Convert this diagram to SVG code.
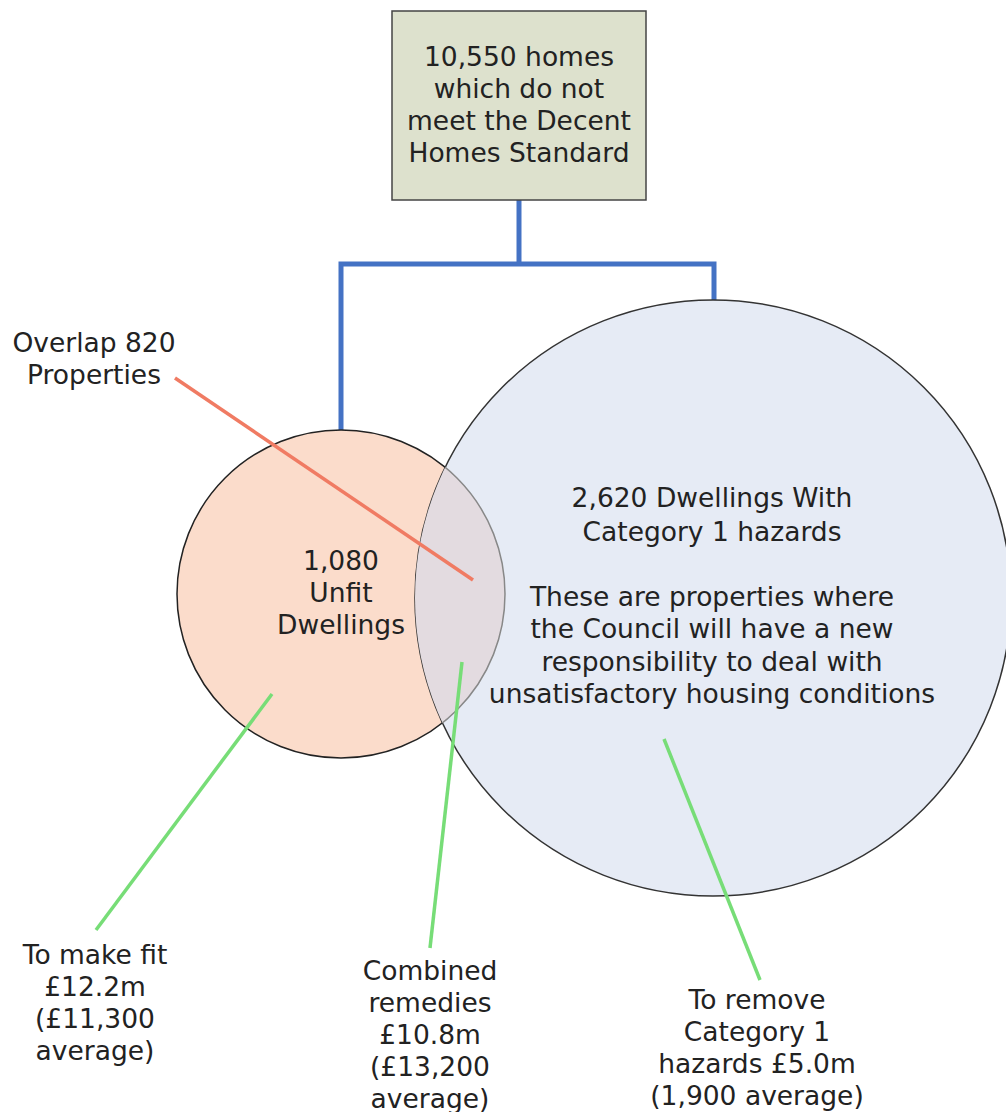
<svg xmlns="http://www.w3.org/2000/svg" width="1006" height="1112" viewBox="0 0 1006 1112">
<style>
text{font-family:"DejaVu Sans","Noto Sans",sans-serif;font-size:26.5px;fill:#222;text-anchor:middle}
.blue{fill:none;stroke:#4472c4;stroke-width:5}
.green{stroke:#77dd77;stroke-width:3.5;fill:none}
.orange{stroke:#f07b63;stroke-width:3.5;fill:none}
</style>
<defs>
<clipPath id="bigClip"><circle cx="713" cy="598" r="298"/></clipPath>
</defs>
<rect width="1006" height="1112" fill="#fff"/>
<g id="connectors">
<polyline class="blue" points="519,200 519,264"/>
<polyline class="blue" points="341,430 341,264 714,264 714,300"/>
</g>
<g id="top-box">
<rect x="392" y="11" width="254" height="189" fill="#dde1cd" stroke="#444" stroke-width="1.5"/>
<text x="519" y="66">10,550 homes</text>
<text x="519" y="98">which do not</text>
<text x="519" y="130">meet the Decent</text>
<text x="519" y="162">Homes Standard</text>
</g>
<g id="unfit-circle">
<circle cx="341" cy="594" r="164" fill="#fbdccb" stroke="#222" stroke-width="1.5"/>
</g>
<g id="hazard-circle">
<circle cx="713" cy="598" r="298" fill="#e6ebf5" stroke="#333" stroke-width="1.5"/>
</g>
<g id="overlap">
<circle cx="341" cy="594" r="164" fill="#e3dbe0" stroke="#888" stroke-width="1.5" clip-path="url(#bigClip)"/>
</g>
<g id="unfit-label">
<text x="341" y="570">1,080</text>
<text x="341" y="602">Unfit</text>
<text x="341" y="634">Dwellings</text>
</g>
<g id="hazard-label">
<text x="712" y="507">2,620 Dwellings With</text>
<text x="712" y="541">Category 1 hazards</text>
<text x="712" y="606">These are properties where</text>
<text x="712" y="638">the Council will have a new</text>
<text x="712" y="671">responsibility to deal with</text>
<text x="712" y="703">unsatisfactory housing conditions</text>
</g>
<g id="pointers">
<line class="orange" x1="175" y1="378" x2="473" y2="580"/>
<line class="green" x1="272" y1="694" x2="96" y2="930"/>
<line class="green" x1="462" y1="662" x2="430" y2="948"/>
<line class="green" x1="664" y1="739" x2="760" y2="980"/>
</g>
<g id="overlap-label">
<text x="94" y="352">Overlap 820</text>
<text x="94" y="384">Properties</text>
</g>
<g id="fit-label">
<text x="95" y="964">To make fit</text>
<text x="95" y="996">£12.2m</text>
<text x="95" y="1028">(£11,300</text>
<text x="95" y="1060">average)</text>
</g>
<g id="combined-label">
<text x="430" y="980">Combined</text>
<text x="430" y="1012">remedies</text>
<text x="430" y="1044">£10.8m</text>
<text x="430" y="1076">(£13,200</text>
<text x="430" y="1108">average)</text>
</g>
<g id="remove-label">
<text x="757" y="1009">To remove</text>
<text x="757" y="1041">Category 1</text>
<text x="757" y="1073">hazards £5.0m</text>
<text x="757" y="1105">(1,900 average)</text>
</g>
</svg>
